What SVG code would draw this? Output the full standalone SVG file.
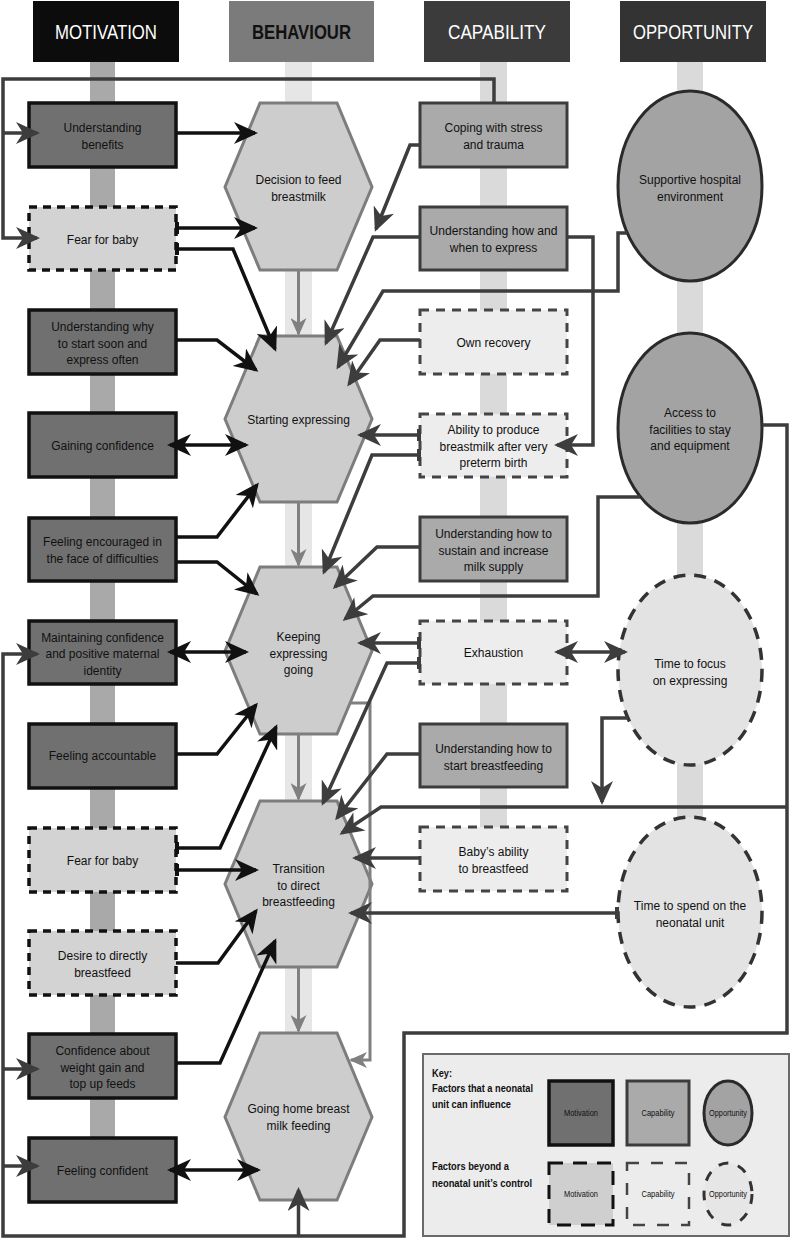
<svg xmlns="http://www.w3.org/2000/svg" width="791" height="1240" viewBox="0 0 791 1240">
<style>
text{font-family:"Liberation Sans",Arial,sans-serif;}
.t{font-size:12px;fill:#111;text-anchor:middle;}
.h{font-size:19.5px;text-anchor:middle;}
.k{font-size:11.5px;font-weight:bold;fill:#111;}
.l{font-size:8.5px;fill:#111;text-anchor:middle;}
.mS{fill:#707070;stroke:#111;stroke-width:3.5;}
.mD{fill:#d3d3d3;stroke:#111;stroke-width:3.5;stroke-dasharray:8 6;}
.cS{fill:#aaaaaa;stroke:#3c3c3c;stroke-width:3;}
.cD{fill:#ededed;stroke:#444;stroke-width:3;stroke-dasharray:9 7;}
.oS{fill:#a3a3a3;stroke:#2a2a2a;stroke-width:3;}
.oD{fill:#e3e3e3;stroke:#333;stroke-width:3.5;stroke-dasharray:12 9;}
.bh{fill:#cdcdcd;stroke:#7d7d7d;stroke-width:3;}
.ck{fill:none;stroke:#111;stroke-width:3.5;}
.cg{fill:none;stroke:#3d3d3d;stroke-width:3.5;}
.cb{fill:none;stroke:#808080;stroke-width:3;}
</style>
<defs>
<marker id="ak" markerUnits="userSpaceOnUse" markerWidth="24" markerHeight="22" refX="21" refY="11" orient="auto-start-reverse"><path d="M0,0 L24,11 L0,22 L7,11 Z" fill="#111"/></marker>
<marker id="ag" markerUnits="userSpaceOnUse" markerWidth="24" markerHeight="22" refX="21" refY="11" orient="auto-start-reverse"><path d="M0,0 L24,11 L0,22 L7,11 Z" fill="#3d3d3d"/></marker>
<marker id="ab" markerUnits="userSpaceOnUse" markerWidth="18" markerHeight="16" refX="16" refY="8" orient="auto"><path d="M0,0 L18,8 L0,16 L5,8 Z" fill="#808080"/></marker>
<marker id="tk" markerUnits="userSpaceOnUse" markerWidth="4" markerHeight="12" refX="1" refY="6" orient="auto"><rect x="0" y="0" width="4" height="12" fill="#111"/></marker>
<marker id="tg" markerUnits="userSpaceOnUse" markerWidth="4" markerHeight="12" refX="1" refY="6" orient="auto"><rect x="0" y="0" width="4" height="12" fill="#3d3d3d"/></marker>
</defs>
<rect width="791" height="1240" fill="#ffffff"/>

<g id="columns">
<rect x="90" y="62" width="25" height="1118" fill="#a9a9a9"/>
<rect x="285" y="62" width="27" height="1050" fill="#e6e6e6"/>
<rect x="480" y="62" width="27" height="800" fill="#dadada"/>
<rect x="677" y="62" width="26" height="850" fill="#dadada"/>
<g id="hdr-motivation"><rect x="33" y="1" width="146" height="61" fill="#0c0c0c"/><text class="h" x="106" y="39" fill="#fff" textLength="102" lengthAdjust="spacingAndGlyphs">MOTIVATION</text></g>
<g id="hdr-behaviour"><rect x="229" y="1" width="145" height="61" fill="#7b7b7b"/><text class="h" x="301.5" y="39" fill="#111" font-weight="bold" textLength="99" lengthAdjust="spacingAndGlyphs">BEHAVIOUR</text></g>
<g id="hdr-capability"><rect x="424" y="1" width="146" height="61" fill="#3b3b3b"/><text class="h" x="497" y="39" fill="#fff" textLength="98" lengthAdjust="spacingAndGlyphs">CAPABILITY</text></g>
<g id="hdr-opportunity"><rect x="620" y="1" width="146" height="61" fill="#333"/><text class="h" x="693" y="39" fill="#fff" textLength="120" lengthAdjust="spacingAndGlyphs">OPPORTUNITY</text></g>
</g>

<g id="nodes">
<g id="m1"><rect class="mS" x="29" y="103" width="147" height="64"/><text class="t" x="102.5" y="132">Understanding<tspan x="102.5" y="149">benefits</tspan></text></g>
<g id="m2"><rect class="mD" x="29" y="207" width="147" height="63"/><text class="t" x="102.5" y="244">Fear for baby</text></g>
<g id="m3"><rect class="mS" x="29" y="310" width="147" height="64"/><text class="t" x="102.5" y="331">Understanding why<tspan x="102.5" y="347.5">to start soon and</tspan><tspan x="102.5" y="364">express often</tspan></text></g>
<g id="m4"><rect class="mS" x="29" y="413" width="147" height="64"/><text class="t" x="102.5" y="450">Gaining confidence</text></g>
<g id="m5"><rect class="mS" x="29" y="518" width="147" height="63"/><text class="t" x="102.5" y="546">Feeling encouraged in<tspan x="102.5" y="563">the face of difficulties</tspan></text></g>
<g id="m6"><rect class="mS" x="29" y="621" width="147" height="63"/><text class="t" x="102.5" y="641.5">Maintaining confidence<tspan x="102.5" y="658">and positive maternal</tspan><tspan x="102.5" y="674.5">identity</tspan></text></g>
<g id="m7"><rect class="mS" x="29" y="724" width="147" height="64"/><text class="t" x="102.5" y="760">Feeling accountable</text></g>
<g id="m8"><rect class="mD" x="29" y="828" width="147" height="64"/><text class="t" x="102.5" y="865">Fear for baby</text></g>
<g id="m9"><rect class="mD" x="29" y="931" width="147" height="64"/><text class="t" x="102.5" y="960">Desire to directly<tspan x="102.5" y="977">breastfeed</tspan></text></g>
<g id="m10"><rect class="mS" x="29" y="1034" width="147" height="64"/><text class="t" x="102.5" y="1055">Confidence about<tspan x="102.5" y="1071.5">weight gain and</tspan><tspan x="102.5" y="1088">top up feeds</tspan></text></g>
<g id="m11"><rect class="mS" x="29" y="1138" width="147" height="64"/><text class="t" x="102.5" y="1175">Feeling confident</text></g>

<g id="b1"><polygon class="bh" points="260,103 337,103 372,187 337,270 260,270 225,187"/><text class="t" x="298.5" y="184">Decision to feed<tspan x="298.5" y="201">breastmilk</tspan></text></g>
<g id="b2"><polygon class="bh" points="260,336 337,336 372,419 337,502 260,502 225,419"/><text class="t" x="298.5" y="424">Starting expressing</text></g>
<g id="b3"><polygon class="bh" points="260,567 337,567 372,651 337,734 260,734 225,651"/><text class="t" x="298.5" y="641">Keeping<tspan x="298.5" y="657.5">expressing</tspan><tspan x="298.5" y="674">going</tspan></text></g>
<g id="b4"><polygon class="bh" points="260,801 337,801 372,884 337,967 260,967 225,884"/><text class="t" x="298.5" y="873">Transition<tspan x="298.5" y="889.5">to direct</tspan><tspan x="298.5" y="906">breastfeeding</tspan></text></g>
<g id="b5"><polygon class="bh" points="260,1033 337,1033 372,1117 337,1200 260,1200 225,1117"/><text class="t" x="298.5" y="1113">Going home breast<tspan x="298.5" y="1130">milk feeding</tspan></text></g>

<g id="c1"><rect class="cS" x="420" y="103" width="147" height="64"/><text class="t" x="493.5" y="132">Coping with stress<tspan x="493.5" y="148.5">and trauma</tspan></text></g>
<g id="c2"><rect class="cS" x="420" y="207" width="147" height="63"/><text class="t" x="493.5" y="235"><tspan textLength="128" lengthAdjust="spacingAndGlyphs">Understanding how and</tspan><tspan x="493.5" y="251.5">when to express</tspan></text></g>
<g id="c3"><rect class="cD" x="420" y="310" width="147" height="64"/><text class="t" x="493.5" y="347">Own recovery</text></g>
<g id="c4"><rect class="cD" x="420" y="414" width="147" height="63"/><text class="t" x="493.5" y="434">Ability to produce<tspan x="493.5" y="450.5">breastmilk after very</tspan><tspan x="493.5" y="467">preterm birth</tspan></text></g>
<g id="c5"><rect class="cS" x="420" y="517" width="147" height="64"/><text class="t" x="493.5" y="538">Understanding how to<tspan x="493.5" y="554.5">sustain and increase</tspan><tspan x="493.5" y="571">milk supply</tspan></text></g>
<g id="c6"><rect class="cD" x="420" y="621" width="147" height="63"/><text class="t" x="493.5" y="657">Exhaustion</text></g>
<g id="c7"><rect class="cS" x="420" y="724" width="147" height="63"/><text class="t" x="493.5" y="753">Understanding how to<tspan x="493.5" y="770">start breastfeeding</tspan></text></g>
<g id="c8"><rect class="cD" x="420" y="827" width="147" height="64"/><text class="t" x="493.5" y="856">Baby’s ability<tspan x="493.5" y="873">to breastfeed</tspan></text></g>

<g id="o1"><ellipse class="oS" cx="690" cy="186" rx="72" ry="95"/><text class="t" x="690" y="184">Supportive hospital<tspan x="690" y="200.5">environment</tspan></text></g>
<g id="o2"><ellipse class="oS" cx="690" cy="428" rx="72" ry="95"/><text class="t" x="690" y="417">Access to<tspan x="690" y="433.5">facilities to stay</tspan><tspan x="690" y="450">and equipment</tspan></text></g>
<g id="o3"><ellipse class="oD" cx="690" cy="670" rx="72" ry="95"/><text class="t" x="690" y="668">Time to focus<tspan x="690" y="685">on expressing</tspan></text></g>
<g id="o4"><ellipse class="oD" cx="690" cy="912" rx="72" ry="95"/><text class="t" x="690" y="910">Time to spend on the<tspan x="690" y="927">neonatal unit</tspan></text></g>
</g>

<g id="connectors">
<!-- behaviour flow -->
<path class="cb" d="M298.5,270 V334" marker-end="url(#ab)"/>
<path class="cb" d="M298.5,502 V565" marker-end="url(#ab)"/>
<path class="cb" d="M298.5,734 V799" marker-end="url(#ab)"/>
<path class="cb" d="M298.5,967 V1031" marker-end="url(#ab)"/>
<path class="cb" d="M349,703 H370 V1060 H351" marker-end="url(#ab)"/>

<!-- motivation to behaviour -->
<path class="ck" d="M176,133 H255" marker-end="url(#ak)"/>
<path class="ck" d="M176,228 H255" marker-end="url(#ak)" marker-start="url(#tk)"/>
<path class="ck" d="M176,249 H233 L275,349" marker-end="url(#ak)" marker-start="url(#tk)"/>
<path class="ck" d="M176,340 H217 L256,370" marker-end="url(#ak)"/>
<path class="ck" d="M170,445 H246" marker-start="url(#ak)" marker-end="url(#ak)"/>
<path class="ck" d="M176,537 H217 L257,485" marker-end="url(#ak)"/>
<path class="ck" d="M176,562 H217 L257,594" marker-end="url(#ak)"/>
<path class="ck" d="M170,652 H246" marker-start="url(#ak)" marker-end="url(#ak)"/>
<path class="ck" d="M176,754 H217 L256,705" marker-end="url(#ak)"/>
<path class="ck" d="M176,848 H220 L276,727" marker-end="url(#ak)" marker-start="url(#tk)"/>
<path class="ck" d="M176,870 H256" marker-end="url(#ak)" marker-start="url(#tk)"/>
<path class="ck" d="M176,963 H218 L256,911" marker-end="url(#ak)"/>
<path class="ck" d="M176,1063 H220 L275,941" marker-end="url(#ak)"/>
<path class="ck" d="M170,1170 H258" marker-start="url(#ak)" marker-end="url(#ak)"/>

<!-- capability / opportunity to behaviour -->
<path class="cg" d="M420,145 H410 L376,229" marker-end="url(#ag)"/>
<path class="cg" d="M420,237 H373 L326,343" marker-end="url(#ag)"/>
<path class="cg" d="M627,233 H618 V291 H383 L338,367" marker-end="url(#ag)"/>
<path class="cg" d="M420,340 H380 L349,384" marker-end="url(#ag)"/>
<path class="cg" d="M420,435 H360" marker-end="url(#ag)" marker-start="url(#tg)"/>
<path class="cg" d="M420,455 H372 L324,572" marker-end="url(#ag)" marker-start="url(#tg)"/>
<path class="cg" d="M567,237 H593 V445 H557" marker-end="url(#ag)"/>
<path class="cg" d="M420,547 H377 L335,587" marker-end="url(#ag)"/>
<path class="cg" d="M640,497 H598 V596 H373 L345,619" marker-end="url(#ag)"/>
<path class="cg" d="M420,643 H360" marker-end="url(#ag)" marker-start="url(#tg)"/>
<path class="cg" d="M420,663 H387 L323,803" marker-end="url(#ag)" marker-start="url(#tg)"/>
<path class="cg" d="M420,754 H387 L337,818" marker-end="url(#ag)"/>
<path class="cg" d="M787,807 H381 L342,833" marker-end="url(#ag)"/>
<path class="cg" d="M420,858 H355" marker-end="url(#ag)"/>
<path class="cg" d="M618,913 H351" marker-end="url(#ag)" marker-start="url(#tg)"/>
<path class="cg" d="M557,652 H625" marker-start="url(#ag)" marker-end="url(#ag)"/>
<path class="cg" d="M628,718 H602 V802" marker-end="url(#ag)"/>

<!-- frame lines -->
<path class="cg" d="M494,103 V79 H3 V238 H37" marker-end="url(#ag)"/>
<path class="cg" d="M3,133 H37" marker-end="url(#ag)"/>
<path class="cg" d="M762,425 H787 V1033 H404 V1236 H3 V654 H37" marker-end="url(#ag)"/>
<path class="cg" d="M3,1069 H37" marker-end="url(#ag)"/>
<path class="cg" d="M3,1166 H37" marker-end="url(#ag)"/>
<path class="cg" d="M298.5,1236 V1190" marker-end="url(#ag)"/>
</g>

<g id="key">
<rect x="423" y="1054" width="366" height="182" fill="#ececec" stroke="#6a6a6a" stroke-width="2"/>
<text class="k" x="432" y="1077" textLength="20" lengthAdjust="spacingAndGlyphs">Key:</text>
<text class="k" x="432" y="1092" textLength="101" lengthAdjust="spacingAndGlyphs">Factors that a neonatal</text>
<text class="k" x="432" y="1108" textLength="79" lengthAdjust="spacingAndGlyphs">unit can influence</text>
<text class="k" x="432" y="1170" textLength="77" lengthAdjust="spacingAndGlyphs">Factors beyond a</text>
<text class="k" x="432" y="1187" textLength="100" lengthAdjust="spacingAndGlyphs">neonatal unit’s control</text>
<rect class="mS" x="549" y="1081" width="64" height="64"/>
<rect class="cS" x="627" y="1081" width="62" height="64"/>
<ellipse class="oS" cx="728" cy="1113" rx="24" ry="32"/>
<rect x="549" y="1163" width="64" height="62" fill="#cfcfcf" stroke="#111" stroke-width="3" stroke-dasharray="14 10"/>
<rect x="627" y="1163" width="62" height="62" fill="#ececec" stroke="#444" stroke-width="2.5" stroke-dasharray="12 12"/>
<ellipse cx="728" cy="1194" rx="24" ry="31" fill="#e6e6e6" stroke="#333" stroke-width="3" stroke-dasharray="10 10"/>
<text class="l" x="581" y="1116" textLength="34" lengthAdjust="spacingAndGlyphs">Motivation</text>
<text class="l" x="658" y="1116" textLength="33" lengthAdjust="spacingAndGlyphs">Capability</text>
<text class="l" x="728" y="1116" textLength="38" lengthAdjust="spacingAndGlyphs">Opportunity</text>
<text class="l" x="581" y="1197" textLength="34" lengthAdjust="spacingAndGlyphs">Motivation</text>
<text class="l" x="658" y="1197" textLength="33" lengthAdjust="spacingAndGlyphs">Capability</text>
<text class="l" x="728" y="1197" textLength="38" lengthAdjust="spacingAndGlyphs">Opportunity</text>
</g>
</svg>
